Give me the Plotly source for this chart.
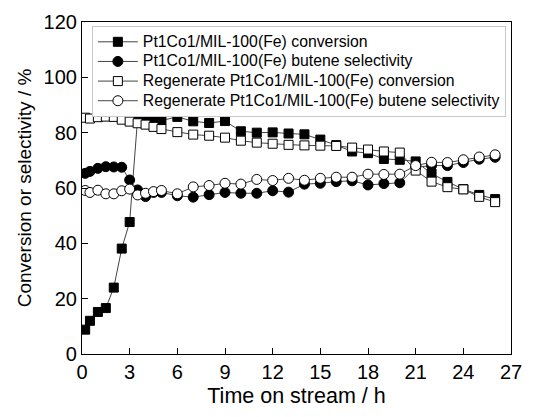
import plotly.graph_objects as go

t1 = [0.2, 0.5, 1.0, 1.5, 2.0, 2.5, 3.0, 3.5, 4.0, 4.5, 5.0, 6, 7, 8, 9, 10, 11, 12, 13, 14, 15, 16, 17, 18, 19, 20, 21, 22, 23, 24, 25, 26]

conv = [8.8, 12.0, 15.2, 16.6, 24.0, 38.1, 47.7, 85.2, 85.4, 85.3, 84.4, 85.7, 84.1, 83.5, 84.2, 80.5, 80.0, 80.1, 79.7, 79.4, 77.5, 75.5, 73.2, 72.6, 70.5, 70.2, 69.6, 65.2, 62.2, 59.6, 57.5, 56.0]
sel = [65.3, 66.0, 67.1, 67.7, 67.6, 67.5, 62.9, 59.3, 56.9, 58.4, 58.4, 57.2, 56.7, 57.6, 58.4, 58.1, 58.1, 59.0, 58.5, 61.4, 61.7, 62.3, 62.6, 61.1, 61.6, 61.9, 67.5, 68.1, 68.1, 69.2, 70.4, 71.1]
reg_conv = [85.4, 85.1, 85.6, 85.8, 85.7, 84.7, 84.0, 83.4, 82.9, 82.1, 81.3, 80.2, 79.3, 78.9, 78.2, 77.1, 76.4, 76.0, 75.6, 75.4, 75.3, 75.2, 74.6, 73.9, 73.2, 72.8, 66.3, 62.3, 60.3, 59.5, 56.8, 54.9]
reg_sel = [59.1, 58.4, 59.2, 57.9, 57.9, 59.0, 59.6, 57.5, 58.1, 58.7, 59.1, 57.9, 60.4, 60.9, 61.7, 61.4, 63.1, 62.7, 63.5, 62.8, 63.5, 63.9, 63.9, 65.0, 64.9, 65.0, 68.1, 69.3, 69.2, 70.2, 71.2, 72.0]

names = ["Pt1Co1/MIL-100(Fe) conversion",
         "Pt1Co1/MIL-100(Fe) butene selectivity",
         "Regenerate Pt1Co1/MIL-100(Fe) conversion",
         "Regenerate Pt1Co1/MIL-100(Fe) butene selectivity"]
x_ticks = [0, 3, 6, 9, 12, 15, 18, 21, 24, 27]
y_ticks = [0, 20, 40, 60, 80, 100, 120]

fig = go.Figure()
styles = [("square", "black", 9), ("circle", "black", 10), ("square", "white", 9), ("circle", "white", 10)]
for name, ys, (sym, fill, sz) in zip(names, [conv, sel, reg_conv, reg_sel], styles):
    fig.add_trace(go.Scatter(
        x=t1, y=ys, name='<span style="font-size:15.8px">' + name + '</span>',
        mode="lines+markers",
        line=dict(color="#444444", width=1),
        marker=dict(symbol=sym, size=sz, color=fill, line=dict(color="black", width=1)),
    ))

font = "Liberation Sans, Arial, sans-serif"
fig.update_layout(
    width=553, height=417,
    margin=dict(l=74, r=50, t=14, b=71),
    paper_bgcolor="white", plot_bgcolor="white",
    font=dict(family=font, color="black"),
    showlegend=True,
    legend=dict(x=0.023, y=0.988, xanchor="left", yanchor="top",
                bgcolor="white", bordercolor="#c8c8c8", borderwidth=1,
                font=dict(size=12.8, family=font), tracegroupgap=0,
                itemwidth=40),
)
fig.update_xaxes(range=[0, 27], tickvals=x_ticks, ticktext=[str(v) for v in x_ticks],
                 ticks="inside", ticklen=6, tickwidth=1, tickcolor="black",
                 showline=True, linecolor="black", linewidth=1.2, mirror=True,
                 showgrid=False, zeroline=False, automargin=False,
                 tickfont=dict(size=20, family=font),
                 title=dict(text="Time on stream / h", font=dict(size=21.5, family=font), standoff=5))
fig.update_yaxes(range=[0, 120], tickvals=y_ticks, ticktext=[str(v) for v in y_ticks],
                 ticks="inside", ticklen=6, tickwidth=1, tickcolor="black",
                 showline=True, linecolor="black", linewidth=1.2, mirror=True,
                 showgrid=False, zeroline=False, automargin=False,
                 tickfont=dict(size=20, family=font),
                 title=dict(text="Conversion or selectivity / %", font=dict(size=19, family=font), standoff=6))

fig.write_html("out.html")
